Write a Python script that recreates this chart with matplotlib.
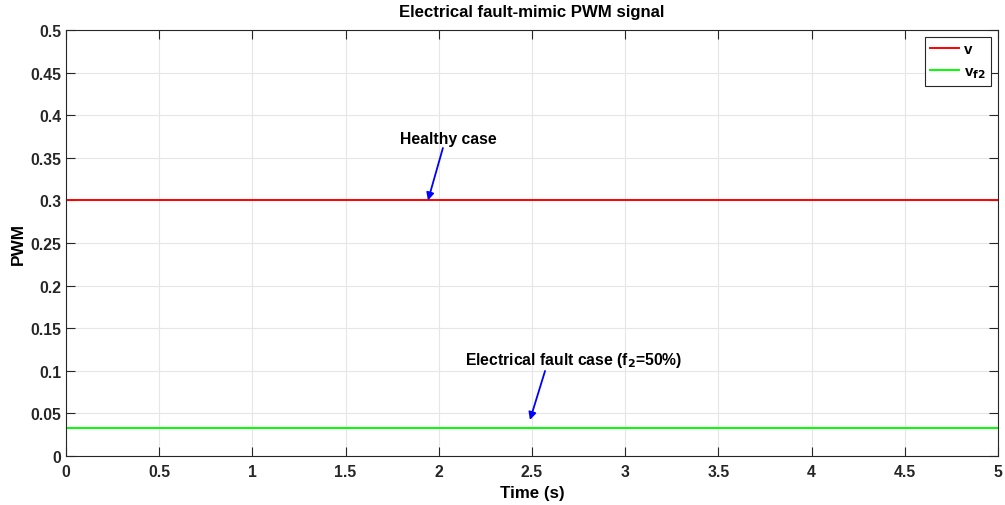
import numpy as np
import matplotlib
matplotlib.use("Agg")
import matplotlib.pyplot as plt

plt.rcParams["font.family"] = ["Liberation Sans", "DejaVu Sans"]
plt.rcParams["font.weight"] = "bold"

# data
t = [0, 5]
v = [0.3, 0.3]
v_f2 = [0.033, 0.033]
xticks = np.arange(0, 5.01, 0.5)
yticks = np.arange(0, 0.501, 0.05)

fig = plt.figure(figsize=(10.05, 5.06), dpi=100)
ax = fig.add_axes([66 / 1005, 1 - 457 / 506, 932 / 1005, 426 / 506])

ax.plot(t, v, color="#ff0000", lw=1.4, label="v")
ax.plot(t, v_f2, color="#00ff00", lw=1.4, label="v$_{\\mathbf{f2}}$")

ax.set_xlim(0, 5)
ax.set_ylim(0, 0.5)
ax.set_xticks(xticks)
ax.set_yticks(yticks)
ax.set_xticklabels([f"{x:g}" for x in xticks])
ax.set_yticklabels([f"{y:g}" for y in yticks])
ax.grid(True, color="#e6e6e6", lw=0.8)
ax.set_axisbelow(True)
ax.tick_params(direction="in", top=True, right=True, length=6.5, labelsize=11.3,
               colors="#262626", width=0.8)
ax.tick_params(axis="x", pad=6)
for s in ax.spines.values():
    s.set_color("#262626")
    s.set_linewidth(0.8)

ax.set_title("Electrical fault-mimic PWM signal", fontsize=12.1, fontweight="bold", pad=10)
ax.set_xlabel("Time (s)", fontsize=12.2, fontweight="bold", labelpad=4)
ax.set_ylabel("PWM", fontsize=12.4, fontweight="bold", labelpad=3)

# annotations
arrow = dict(arrowstyle="-|>", color="blue", lw=1.3, shrinkA=0, shrinkB=0, mutation_scale=11)
ax.text(2.049, 0.373, "Healthy case", ha="center", va="center", fontsize=11.3, fontweight="bold")
ax.annotate("", xy=(1.942, 0.3), xytext=(2.022, 0.3615), arrowprops=arrow)
ax.text(2.725, 0.1127, "Electrical fault case (f$_\\mathbf{2}$=50%)", ha="center", va="center",
        fontsize=11.3, fontweight="bold")
ax.annotate("", xy=(2.489, 0.0423), xytext=(2.570, 0.0998), arrowprops=arrow)

leg = ax.legend(loc="upper right", fontsize=11, handlelength=1.9, borderpad=0.35,
                labelspacing=0.55, handletextpad=0.3, borderaxespad=0.45,
                fancybox=False, framealpha=1)
leg.get_frame().set_edgecolor("#262626")
leg.get_frame().set_linewidth(0.8)

fig.savefig("out.png", dpi=100)
